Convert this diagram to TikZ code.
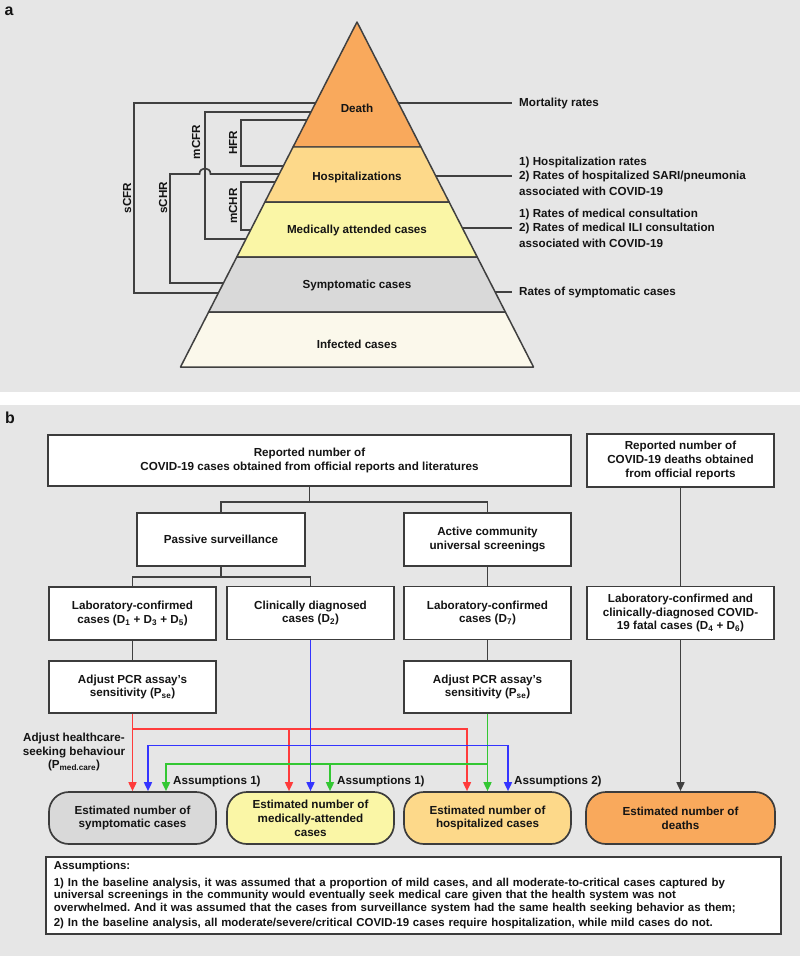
\documentclass[tikz,border=0pt]{standalone}
\usepackage{fontspec}
\setmainfont{Liberation Sans}
\usetikzlibrary{arrows.meta,calc}
\definecolor{bgc}{HTML}{E6E6E6}
\definecolor{boxc}{HTML}{3C3C3C}
\definecolor{linec}{HTML}{404040}
\definecolor{txtc}{HTML}{141414}
\definecolor{deathc}{HTML}{F9A95C}
\definecolor{hospc}{HTML}{FDD98A}
\definecolor{medc}{HTML}{FAF6A6}
\definecolor{sympc}{HTML}{D9D9D9}
\definecolor{infc}{HTML}{FBF8EB}
\definecolor{redl}{HTML}{FF3B3B}
\definecolor{bluel}{HTML}{3434FF}
\definecolor{greenl}{HTML}{33C733}
\newcommand\pyrL[1]{357-0.5116*(#1-22)}
\newcommand\pyrR[1]{357+0.5116*(#1-22)}
\frenchspacing
\begin{document}
\begin{tikzpicture}[x=1bp,y=-1bp,
  every node/.style={font=\fontsize{11.7}{14}\selectfont\bfseries, text=txtc},
  stepbox/.style={draw=boxc, line width=1.7pt, fill=white, inner sep=0pt, align=center},
  estbox/.style={stepbox, rounded corners=20pt},
  conn/.style={draw=linec, line width=1.7pt},
  tip/.style={-{Triangle[length=9pt,width=8pt]}},
  lbl/.style={inner sep=0pt, anchor=west},
  rot/.style={inner sep=0pt, rotate=90},
  panel/.style={font=\fontsize{16}{16}\selectfont\bfseries, inner sep=0pt}
]
\useasboundingbox (0,0) rectangle (800,956);
\fill[white] (0,0) rectangle (800,956);
\fill[bgc] (0,0) rectangle (800,392);
\fill[bgc] (0,405) rectangle (800,956);
\node[panel] (pa) at (9,11) {a};
\node[panel] (pb) at (10,418) {b};

% ---------- panel a : brackets ----------
\draw[conn] ({\pyrL{103}},103) -- (134,103) -- (134,293) -- ({\pyrL{293}},293);
\draw[conn] ({\pyrL{112}},112) -- (205,112) -- (205,239) -- ({\pyrL{239}},239);
\draw[conn] ({\pyrL{120}},120) -- (241,120) -- (241,166) -- ({\pyrL{166}},166);
\draw[conn] ({\pyrL{283}},283) -- (170,283) -- (170,174) -- (199.5,174)
   .. controls (199.5,166.5) and (210.5,166.5) .. (210.5,174) -- ({\pyrL{174}},174);
\draw[conn] ({\pyrL{182}},182) -- (241,182) -- (241,230) -- ({\pyrL{230}},230);
\node[rot] (lscfr) at (127,198) {sCFR};
\node[rot] (lmcfr) at (196,142) {mCFR};
\node[rot] (lhfr) at (233,143) {HFR};
\node[rot] (lschr) at (163,198) {sCHR};
\node[rot] (lmchr) at (233,206) {mCHR};

% right label lines
\draw[conn] ({\pyrR{103}},103) -- (512,103);
\draw[conn] ({\pyrR{176}},176) -- (512,176);
\draw[conn] ({\pyrR{228}},228) -- (512,228);
\draw[conn] ({\pyrR{292}},292) -- (512,292);
\node[lbl] (rmort) at (519,103) {Mortality rates};
\node[lbl] (rh1) at (519,162) {1) Hospitalization rates};
\node[lbl] (rh2) at (519,176.5) {2) Rates of hospitalized SARI/pneumonia};
\node[lbl] (rh3) at (519,191) {associated with COVID-19};
\node[lbl] (rm1) at (519,214) {1) Rates of medical consultation};
\node[lbl] (rm2) at (519,228.5) {2) Rates of medical ILI consultation};
\node[lbl] (rm3) at (519,243) {associated with COVID-19};
\node[lbl] (rsym) at (519,292) {Rates of symptomatic cases};

% ---------- pyramid ----------
\begin{scope}[draw=linec, line width=1.5pt, line join=round]
\filldraw[fill=deathc] (357,22) -- ({\pyrR{147}},147) -- ({\pyrL{147}},147) -- cycle;
\filldraw[fill=hospc] ({\pyrL{147}},147) -- ({\pyrR{147}},147) -- ({\pyrR{202}},202) -- ({\pyrL{202}},202) -- cycle;
\filldraw[fill=medc] ({\pyrL{202}},202) -- ({\pyrR{202}},202) -- ({\pyrR{257}},257) -- ({\pyrL{257}},257) -- cycle;
\filldraw[fill=sympc] ({\pyrL{257}},257) -- ({\pyrR{257}},257) -- ({\pyrR{312}},312) -- ({\pyrL{312}},312) -- cycle;
\filldraw[fill=infc] ({\pyrL{312}},312) -- ({\pyrR{312}},312) -- ({\pyrR{367}},367) -- ({\pyrL{367}},367) -- cycle;
\end{scope}
\node (tdeath) at (357,108) {Death};
\node (thosp) at (357,177) {Hospitalizations};
\node (tmed) at (357,230) {Medically attended cases};
\node (tsym) at (357,285) {Symptomatic cases};
\node (tinf) at (357,344) {Infected cases};

% ---------- panel b : boxes ----------
\node[stepbox, minimum width=523bp, minimum height=51bp] (top) at (309.5,460.5)
  {Reported number of\\COVID-19 cases obtained from official reports and literatures};
\node[stepbox, minimum width=187bp, minimum height=53bp] (rdeaths) at (680.5,460.5)
  {Reported number of\\COVID-19 deaths obtained\\from official reports};
\node[stepbox, minimum width=168bp, minimum height=53bp] (passive) at (221,539.5)
  {Passive surveillance};
\node[stepbox, minimum width=167bp, minimum height=53bp] (active) at (487.5,539.5)
  {Active community\\universal screenings};
\node[stepbox, minimum width=167bp, minimum height=53bp] (lab1) at (132.5,613.5)
  {Laboratory-confirmed\\cases (D\textsubscript{1} + D\textsubscript{3} + D\textsubscript{5})};
\node[stepbox, minimum width=167bp, minimum height=53bp] (clin) at (310.5,613)
  {Clinically diagnosed\\cases (D\textsubscript{2})};
\node[stepbox, minimum width=167bp, minimum height=53bp] (lab7) at (487.5,613)
  {Laboratory-confirmed\\cases (D\textsubscript{7})};
\node[stepbox, minimum width=187bp, minimum height=53bp] (labfatal) at (680.5,613)
  {Laboratory-confirmed and\\clinically-diagnosed COVID-\\19 fatal cases (D\textsubscript{4} + D\textsubscript{6})};
\node[stepbox, minimum width=167bp, minimum height=52bp] (pcr1) at (132.5,687)
  {Adjust PCR assay's\\sensitivity (P\textsubscript{se})};
\node[stepbox, minimum width=167bp, minimum height=52bp] (pcr2) at (487.5,687)
  {Adjust PCR assay's\\sensitivity (P\textsubscript{se})};
\node[estbox, fill=sympc, minimum width=167bp, minimum height=52bp] (est1) at (132.5,818)
  {Estimated number of\\symptomatic cases};
\node[estbox, fill=medc, minimum width=167bp, minimum height=52bp] (est2) at (310.5,818)
  {Estimated number of\\medically-attended\\cases};
\node[estbox, fill=hospc, minimum width=167bp, minimum height=52bp] (est3) at (487.5,818)
  {Estimated number of\\hospitalized cases};
\node[estbox, fill=deathc, minimum width=189bp, minimum height=52bp] (est4) at (680.5,818)
  {Estimated number of\\deaths};
\node[stepbox, anchor=north west, minimum width=735bp, minimum height=77bp,
      text width=719bp, align=left, inner xsep=8bp,
      font=\fontsize{11.5}{12.5}\selectfont\bfseries] (assump) at (45,856)
  {Assumptions:\\[4pt]
   1) In the baseline analysis, it was assumed that a proportion of mild cases, and all moderate-to-critical cases captured by\\
   universal screenings in the community would eventually seek medical care given that the health system was not\\
   overwhelmed. And it was assumed that the cases from surveillance system had the same health seeking behavior as them;\\[3.5pt]
   2) In the baseline analysis, all moderate/severe/critical COVID-19 cases require hospitalization, while mild cases do not.};

% ---------- panel b : connectors ----------
\draw[conn] (top.south) -- ++(0,15) coordinate (tj);
\draw[conn] (passive.north) |- (tj) -| (active.north);
\draw[conn] (passive.south) -- ++(0,10) coordinate (pj);
\draw[conn] (lab1.north) |- (pj) -| (clin.north);
\draw[conn] (active.south) -- (lab7.north);
\draw[conn] (rdeaths.south) -- (labfatal.north);
\draw[conn] (lab1.south) -- (pcr1.north);
\draw[conn] (lab7.south) -- (pcr2.north);
\draw[conn,tip] (labfatal.south) -- (est4.north);

\coordinate (rj) at ($(pcr1.south)+(0,15)$);
\coordinate (r2) at ($(est2.north)+(-21.5,0)$);
\coordinate (r3) at ($(est3.north)+(-20.5,0)$);
\coordinate (bj) at ($(clin.south)+(0,105)$);
\coordinate (b1) at ($(est1.north)+(15.5,0)$);
\coordinate (b3) at ($(est3.north)+(20.5,0)$);
\coordinate (gj) at ($(pcr2.south)+(0,50)$);
\coordinate (g1) at ($(est1.north)+(33.5,0)$);
\coordinate (g2) at ($(est2.north)+(19.5,0)$);

\begin{scope}[line width=1.7pt]
\draw[redl,tip] (pcr1.south) -- (est1.north);
\draw[redl,tip] (rj) -| (r3);
\draw[redl,tip] (rj -| r2) -- (r2);
\draw[greenl,tip] (pcr2.south) -- (est3.north);
\draw[greenl,tip] (gj) -| (g1);
\draw[greenl,tip] (gj -| g2) -- (g2);
\draw[bluel,tip] (clin.south) -- (est2.north);
\draw[bluel,tip] (bj) -| (b1);
\draw[bluel,tip] (bj) -| (b3);
\end{scope}

\node[lbl] (as1) at (173,781) {Assumptions 1)};
\node[lbl] (as2) at (337,781) {Assumptions 1)};
\node[lbl] (as3) at (514,781) {Assumptions 2)};
\node[align=center, inner sep=0pt] (hc) at (74,752)
  {Adjust healthcare-\\seeking behaviour\\(P\textsubscript{med.care})};
\end{tikzpicture}
\end{document}
